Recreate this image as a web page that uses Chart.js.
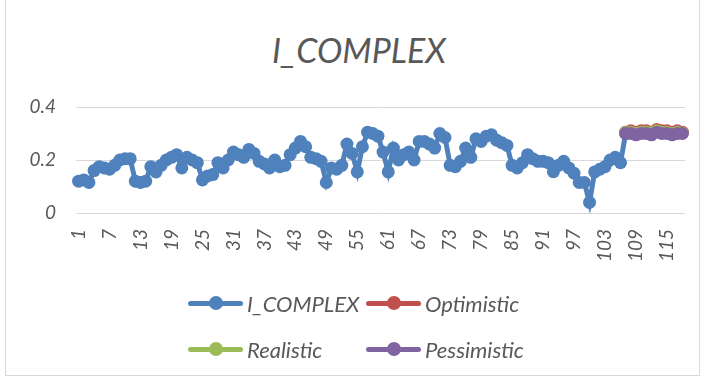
<!DOCTYPE html>
<html>
<head>
<meta charset="utf-8">
<script src="https://cdn.jsdelivr.net/npm/chart.js@4/dist/chart.umd.min.js"></script>
<style>
  html, body { margin: 0; padding: 0; background: #ffffff; }
  #wrap { position: relative; width: 705px; height: 379px; overflow: hidden; }
  #frame { position: absolute; left: 5px; top: -1px; width: 695px; height: 377px; border: 1px solid #d9d9d9; box-sizing: border-box; }
  #title { position: absolute; left: 0; width: 718px; top: 29px; text-align: center; font: italic 34px Lato, sans-serif; color: #595959; }
  #chart { position: absolute; left: 0; top: 0; }
  .lg { position: absolute; display: flex; align-items: center; font: italic 22px Lato, sans-serif; color: #595959; white-space: nowrap; }
  .sw { position: relative; width: 55px; height: 14px; margin-right: 4px; }
  .sw .ln { position: absolute; left: 0; right: 0; top: 4.5px; height: 5px; border-radius: 3px; }
  .sw .dot { position: absolute; left: 21px; top: 0; width: 14px; height: 14px; border-radius: 50%; }
</style>
</head>
<body>
<div id="wrap">
  <div id="frame"></div>
  <div id="title">I_COMPLEX</div>
  <canvas id="chart" width="705" height="379"></canvas>
  <div id="legend"></div>
</div>
<script>
// Period numbers 1..118
const periods = Array.from({ length: 118 }, (_, i) => String(i + 1));

// Observed index, periods 1..107
const iComplex = [
  0.12, 0.125, 0.115, 0.16, 0.175, 0.17, 0.165, 0.18, 0.2, 0.205,
  0.205, 0.12, 0.115, 0.12, 0.175, 0.155, 0.18, 0.2, 0.21, 0.22,
  0.17, 0.21, 0.2, 0.19, 0.125, 0.14, 0.145, 0.19, 0.17, 0.2,
  0.23, 0.22, 0.21, 0.24, 0.225, 0.195, 0.185, 0.17, 0.2, 0.175,
  0.18, 0.22, 0.245, 0.27, 0.25, 0.21, 0.205, 0.195, 0.115, 0.17,
  0.165, 0.18, 0.26, 0.225, 0.155, 0.25, 0.305, 0.3, 0.29, 0.23,
  0.155, 0.245, 0.2, 0.22, 0.23, 0.2, 0.27, 0.27, 0.26, 0.245,
  0.3, 0.285, 0.18, 0.175, 0.195, 0.245, 0.21, 0.28, 0.27, 0.29,
  0.295, 0.275, 0.265, 0.255, 0.18, 0.17, 0.19, 0.22, 0.205, 0.195,
  0.195, 0.19, 0.156, 0.18, 0.195, 0.17, 0.15, 0.115, 0.115, 0.04,
  0.155, 0.165, 0.175, 0.2, 0.21, 0.19, 0.30
];

// Scenario forecasts, periods 107..118
const optimistic  = [0.305, 0.31, 0.305, 0.31, 0.31, 0.305, 0.315, 0.31, 0.31, 0.305, 0.31, 0.305];
const realistic   = [0.303, 0.305, 0.30, 0.305, 0.305, 0.302, 0.31, 0.305, 0.305, 0.30, 0.305, 0.302];
const pessimistic = [0.30, 0.30, 0.295, 0.30, 0.30, 0.295, 0.305, 0.30, 0.30, 0.295, 0.30, 0.30];

// Y-axis tick values
const yTicks = [0, 0.2, 0.4];

const forecastStart = 106; // zero-based index of period 107

function padSeries(values, start) {
  const out = new Array(periods.length).fill(null);
  values.forEach((v, i) => { out[start + i] = v; });
  return out;
}

const series = [
  { label: 'I_COMPLEX',   data: padSeries(iComplex, 0),                color: '#4f81bd', order: 3 },
  { label: 'Optimistic',  data: padSeries(optimistic, forecastStart),  color: '#c0504d', order: 2 },
  { label: 'Realistic',   data: padSeries(realistic, forecastStart),   color: '#9bbb59', order: 1 },
  { label: 'Pessimistic', data: padSeries(pessimistic, forecastStart), color: '#8064a2', order: 0 }
];

const textColor = '#595959';
const tickFont = { family: 'Lato, sans-serif', size: 19, style: 'italic' };

// Plot area edges in canvas pixels
const plotLeft = 76;
const plotRight = 685;

const chart = new Chart(document.getElementById('chart'), {
  type: 'line',
  data: {
    labels: periods,
    datasets: series.map(s => ({
      label: s.label,
      data: s.data,
      order: s.order,
      borderColor: s.color,
      backgroundColor: s.color,
      pointBackgroundColor: s.color,
      pointBorderColor: s.color,
      borderWidth: 5,
      pointRadius: 6.5,
      pointBorderWidth: 0,
      pointHoverRadius: 6.5,
      tension: 0,
      spanGaps: false
    }))
  },
  options: {
    responsive: false,
    animation: false,
    devicePixelRatio: 1,
    layout: { padding: { left: 0, right: 705 - plotRight, top: 107, bottom: 100 } },
    plugins: {
      legend: { display: false },
      title: { display: false },
      tooltip: { enabled: false }
    },
    scales: {
      x: {
        type: 'category',
        offset: true,
        grid: { display: false, drawTicks: false },
        border: { display: false },
        ticks: {
          autoSkip: false,
          minRotation: 90,
          maxRotation: 90,
          padding: 16,
          color: textColor,
          font: tickFont,
          callback: (value, index) => (index % 6 === 0 ? periods[index] : '')
        },
        afterFit: scale => {
          scale.height = 66;
          scale.paddingLeft = 0;
          scale.paddingRight = 0;
        }
      },
      y: {
        min: yTicks[0],
        max: yTicks[yTicks.length - 1],
        grid: { color: '#d9d9d9', lineWidth: 1, drawTicks: false },
        border: { display: false },
        afterBuildTicks: scale => { scale.ticks = yTicks.map(v => ({ value: v })); },
        ticks: {
          padding: 20,
          color: textColor,
          font: tickFont,
          callback: v => String(v)
        },
        afterFit: scale => { scale.width = plotLeft; }
      }
    }
  }
});

// Legend in two rows of two entries
const legendPos = [
  { x: 188, y: 303 }, { x: 366, y: 303 },
  { x: 188, y: 349 }, { x: 366, y: 349 }
];
const legendEl = document.getElementById('legend');
chart.data.datasets.forEach((ds, i) => {
  const item = document.createElement('div');
  item.className = 'lg';
  item.style.left = legendPos[i].x + 'px';
  item.style.top = (legendPos[i].y - 14) + 'px';
  item.style.height = '28px';
  item.innerHTML =
    '<div class="sw"><div class="ln" style="background:' + ds.borderColor + '"></div>' +
    '<div class="dot" style="background:' + ds.borderColor + '"></div></div>' +
    '<span>' + ds.label + '</span>';
  legendEl.appendChild(item);
});
</script>
</body>
</html>
